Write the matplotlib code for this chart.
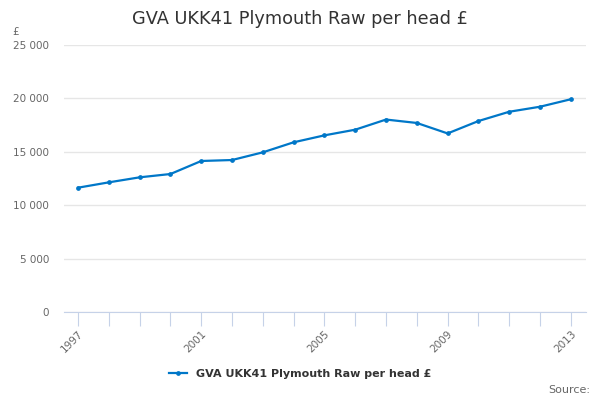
import matplotlib
matplotlib.use("Agg")
import matplotlib.pyplot as plt
from matplotlib.ticker import FuncFormatter

years = list(range(1997, 2014))
values = [11640, 12140, 12610, 12920, 14140, 14230, 14950, 15890, 16540,
          17070, 18020, 17700, 16720, 17880, 18750, 19220, 19920]
label_years = [1997, 2001, 2005, 2009, 2013]
series_name = "GVA UKK41 Plymouth Raw per head £"

line_color = "#0077c8"
axis_color = "#c6d2e8"

fig = plt.figure(figsize=(6, 4), dpi=100)
ax = fig.add_axes([0.107, 0.22, 0.87, 0.6675])

ax.plot(years, values, color=line_color, linewidth=1.6, marker="o",
        markersize=2.4, label=series_name)

ax.set_xlim(1996.55, 2013.5)
ax.set_ylim(0, 25000)
ax.set_yticks(range(0, 25001, 5000))
ax.yaxis.set_major_formatter(FuncFormatter(lambda v, p: f"{int(v):,}".replace(",", " ")))
ax.grid(axis="y", color="#e6e6e6", linewidth=1)
ax.set_axisbelow(True)

ax.set_xticks(years)
ax.set_xticklabels([str(y) if y in label_years else "" for y in years],
                   rotation=45, ha="right", rotation_mode="anchor")
ax.tick_params(axis="x", length=10, color=axis_color, labelsize=7.5,
               labelcolor="#666666", pad=2)
ax.tick_params(axis="y", length=0, labelsize=7.5, labelcolor="#666666", pad=11)

for s in ["top", "right", "left"]:
    ax.spines[s].set_visible(False)
ax.spines["bottom"].set_color(axis_color)

fig.text(0.5, 0.952, "GVA UKK41 Plymouth Raw per head £", ha="center", va="center",
         fontsize=12.8, color="#333333")
fig.text(0.02, 0.92, "£", ha="left", va="center", fontsize=7.5, color="#666666")

fig.legend(loc="center", bbox_to_anchor=(0.5, 0.066), frameon=False,
           prop={"weight": "bold", "size": 8}, handlelength=1.6, labelcolor="#333333")
fig.text(0.983, 0.025, "Source:", ha="right", va="center", fontsize=8, color="#666666")

fig.savefig("out.png")
